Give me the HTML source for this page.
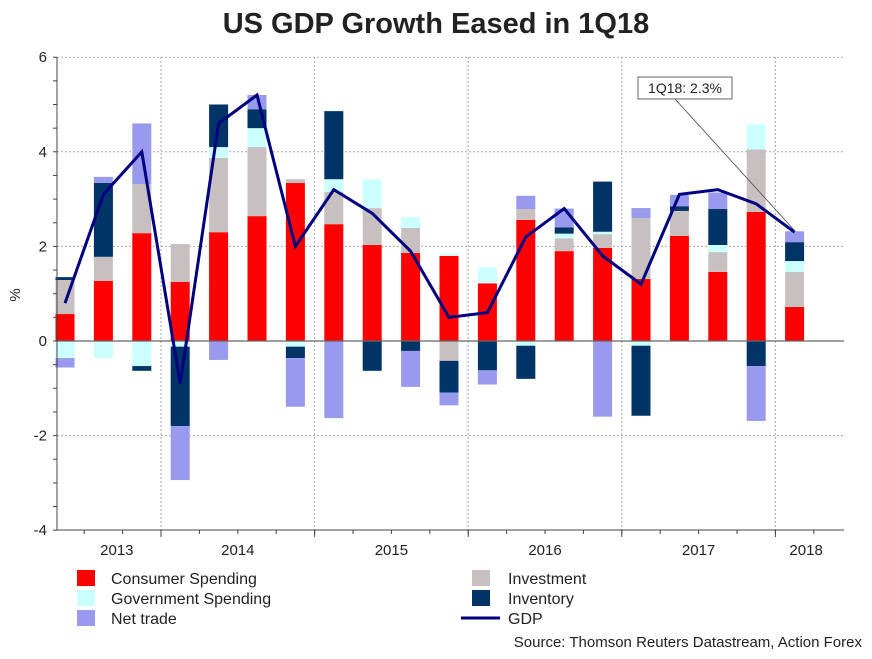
<!DOCTYPE html>
<html><head><meta charset="utf-8"><style>
body{margin:0;background:#fff;}
svg text{font-family:"Liberation Sans",Arial,sans-serif;}
</style></head><body>
<svg id="chart" width="872" height="654" xmlns="http://www.w3.org/2000/svg">
<text x="436" y="33" text-anchor="middle" font-size="29" font-weight="bold" fill="#222">US GDP Growth Eased in 1Q18</text>
<g id="grid"></g><g id="bars"></g><g id="axes"></g><g id="line"></g>
<g>
<line x1="675" y1="99" x2="795" y2="231" stroke="#444" stroke-width="0.8"/>
<rect x="638" y="77" width="94" height="22" fill="#fff" stroke="#666"/>
<text x="685" y="93" text-anchor="middle" font-size="14" fill="#222">1Q18: 2.3%</text>
</g>
<g font-size="16" fill="#222">
<rect x="77" y="570" width="18" height="16" fill="#ff0000"/><text x="111" y="584">Consumer Spending</text>
<rect x="77" y="590" width="18" height="16" fill="#ccffff"/><text x="111" y="604">Government Spending</text>
<rect x="77" y="610" width="18" height="16" fill="#9999ee"/><text x="111" y="624">Net trade</text>
<rect x="472" y="570" width="18" height="16" fill="#c8c0c0"/><text x="508" y="584">Investment</text>
<rect x="472" y="590" width="18" height="16" fill="#003366"/><text x="508" y="604">Inventory</text>
<line x1="461" y1="618" x2="500" y2="618" stroke="#000080" stroke-width="3"/><text x="508" y="624">GDP</text>
</g>
<text x="862" y="647" text-anchor="end" font-size="15" fill="#222">Source: Thomson Reuters Datastream, Action Forex</text>
<text x="20" y="295" font-size="15" fill="#222" transform="rotate(-90 20 295)" text-anchor="middle">%</text>
</svg>
<script>
const quarters=["2Q13","3Q13","4Q13","1Q14","2Q14","3Q14","4Q14","1Q15","2Q15","3Q15","4Q15","1Q16","2Q16","3Q16","4Q16","1Q17","2Q17","3Q17","4Q17","1Q18"];
const consumer=[0.57,1.27,2.28,1.25,2.3,2.64,3.34,2.47,2.03,1.86,1.8,1.22,2.56,1.9,1.97,1.31,2.22,1.46,2.73,0.72];
const investment=[0.72,0.51,1.04,0.8,1.57,1.46,0.08,0.68,0.78,0.53,-0.42,0,0.23,0.27,0.29,1.29,0.53,0.42,1.32,0.74];
const government=[-0.36,-0.36,-0.53,-0.12,0.23,0.4,-0.12,0.27,0.61,0.23,0.05,0.34,-0.1,0.1,0.05,-0.1,0,0.15,0.53,0.23];
const inventory=[0.06,1.56,-0.1,-1.68,0.9,0.4,-0.24,1.44,-0.63,-0.21,-0.67,-0.62,-0.7,0.13,1.06,-1.48,0.1,0.76,-0.53,0.4];
const netTrade=[-0.2,0.13,1.28,-1.14,-0.4,0.3,-1.03,-1.63,0,-0.76,-0.27,-0.3,0.28,0.4,-1.6,0.21,0.24,0.35,-1.16,0.23];
const gdp=[0.8,3.1,4.0,-0.9,4.6,5.2,2.0,3.2,2.7,1.9,0.5,0.6,2.2,2.8,1.8,1.2,3.1,3.2,2.9,2.3];
const yTicks=[-4,-2,0,2,4,6];
const years=["2013","2014","2015","2016","2017","2018"];
const NS="http://www.w3.org/2000/svg";
const L=57,R=844,T=57,B=530;
const y=v=>341-v*47.3;
const x=i=>65+i*38.4;
function mk(tag,attrs,parent){const e=document.createElementNS(NS,tag);for(const k in attrs)e.setAttribute(k,attrs[k]);document.getElementById(parent).appendChild(e);return e;}
yTicks.forEach(t=>{
 if(t!==0&&t!==-4){const g=mk('line',{x1:L,x2:R,y1:y(t),y2:y(t),stroke:'#aaa','stroke-dasharray':'2,2'},'grid');}
 const tx=mk('text',{x:L-10,y:y(t)+5,'text-anchor':'end','font-size':'15',fill:'#222'},'axes');tx.textContent=t;
 
 
});
for(let v=-4;v<=6;v+=0.5){mk('line',{x1:L-4,x2:L,y1:y(v),y2:y(v),stroke:'#444'},'axes');}
[2.5,6.5,10.5,14.5,18.5].forEach(q=>{const xx=x(q);
 const g=mk('line',{x1:xx,x2:xx,y1:T,y2:B,stroke:'#aaa','stroke-dasharray':'2,2'},'grid');
 
 
 mk('line',{x1:xx,x2:xx,y1:B,y2:B+7,stroke:'#444'},'axes');});
for(let i=0;i<20;i++){mk('line',{x1:x(i+0.5),x2:x(i+0.5),y1:B,y2:B+4,stroke:'#444'},'axes');}
const yearPos=[1.35,4.5,8.5,12.5,16.5,19.3];
years.forEach((yr,k)=>{const t=mk('text',{x:x(yearPos[k]),y:B+25,'text-anchor':'middle','font-size':'15',fill:'#222'},'axes');t.textContent=yr;
 
 });
const series=[[consumer,'#ff0000','consumer'],[investment,'#c8c0c0','investment'],[government,'#ccffff','government'],[inventory,'#003366','inventory'],[netTrade,'#9999ee','net-trade']];
quarters.forEach((q,i)=>{let pos=0,neg=0;
 series.forEach(([arr,col,nm])=>{const v=arr[i];if(!v)return;let a,b;
  if(v>0){a=pos;b=pos+v;pos=b;}else{a=neg;b=neg+v;neg=b;}
  const r=mk('rect',{x:x(i)-9.5,width:19,y:Math.min(y(a),y(b)),height:Math.abs(y(a)-y(b)),fill:col},'bars');
  
  });
});
mk('line',{x1:L,x2:R,y1:y(0),y2:y(0),stroke:'#666','stroke-width':'1.2'},'axes');
mk('line',{x1:L,x2:L,y1:T,y2:B,stroke:'#444'},'axes');
mk('line',{x1:L,x2:R,y1:B,y2:B,stroke:'#444'},'axes');
const p=mk('polyline',{points:gdp.map((v,i)=>x(i)+','+y(v)).join(' '),fill:'none',stroke:'#000080','stroke-width':'3','stroke-linejoin':'miter'},'line');


</script>
</body></html>
